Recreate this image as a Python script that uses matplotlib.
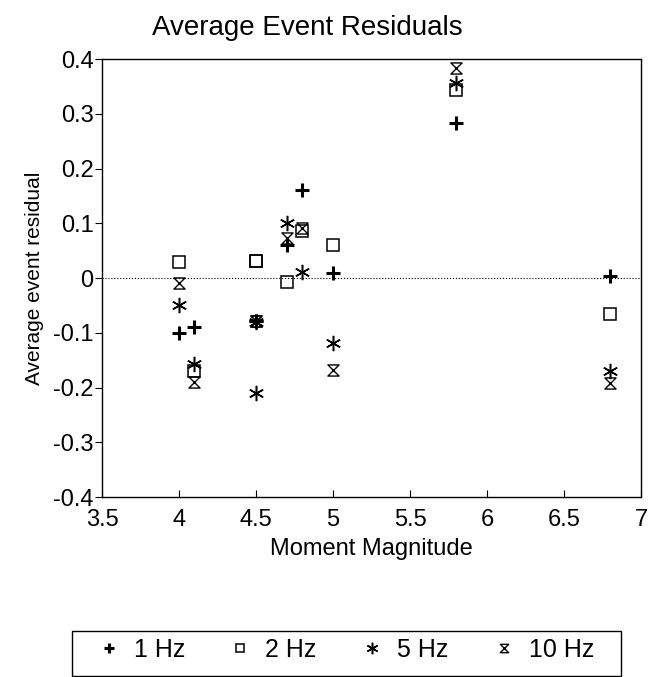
import matplotlib
matplotlib.use("Agg")
import matplotlib.pyplot as plt
from matplotlib.path import Path
from matplotlib.patches import Rectangle

plt.rcParams['font.family'] = ['Liberation Sans', 'DejaVu Sans']

# moment magnitudes of the events
mag = [4.0, 4.1, 4.5, 4.5, 4.7, 4.8, 5.0, 5.8, 6.8]

# average event residual per frequency
res_1hz = [-0.100, -0.089, -0.078, -0.078, 0.060, 0.160, 0.010, 0.283, 0.004]
res_2hz = [0.030, -0.170, 0.031, 0.031, -0.008, 0.086, 0.060, 0.344, -0.065]
res_5hz = [-0.050, -0.157, -0.080, -0.210, 0.100, 0.011, -0.118, 0.356, -0.170]
res_10hz = [-0.010, -0.190, -0.078, -0.078, 0.073, 0.091, -0.168, 0.384, -0.192]

labels = ['1 Hz', '2 Hz', '5 Hz', '10 Hz']

# sand-glass marker for the 10 Hz series
hourglass = Path([(-1, 1), (1, 1), (-1, -1), (1, -1), (-1, 1)],
                 [Path.MOVETO, Path.LINETO, Path.LINETO, Path.LINETO, Path.CLOSEPOLY])

W, H = 648, 677
fig = plt.figure(figsize=(W / 100, H / 100), dpi=100)
ax = fig.add_axes([102 / W, 1 - 497 / H, (641 - 102) / W, (497 - 59) / H])

ax.axhline(0, color='black', lw=0.8, ls=':', zorder=1)

ax.plot(mag, res_1hz, ls='none', marker='+', ms=10, mew=2.2, color='black', label=labels[0])
ax.plot(mag, res_2hz, ls='none', marker='s', ms=8, mew=1.1, mfc='none', mec='black', label=labels[1])
ax.plot(mag, res_5hz, ls='none', marker=(6, 2, 0), ms=11, mew=1.1, color='black', label=labels[2])
ax.plot(mag, res_10hz, ls='none', marker=hourglass, ms=8, mew=1.0, mfc='none', mec='black', label=labels[3])

ax.set_xlim(3.5, 7)
ax.set_ylim(-0.4, 0.4)
ax.set_xticks([3.5, 4, 4.5, 5, 5.5, 6, 6.5, 7])
ax.set_xticklabels(['3.5', '4', '4.5', '5', '5.5', '6', '6.5', '7'])
ax.set_yticks([0.4, 0.3, 0.2, 0.1, 0, -0.1, -0.2, -0.3, -0.4])
ax.set_yticklabels(['0.4', '0.3', '0.2', '0.1', '0', '-0.1', '-0.2', '-0.3', '-0.4'])
ax.tick_params(axis='x', direction='in', length=5, labelsize=17, pad=9)
ax.tick_params(axis='y', direction='out', length=5, labelsize=17, pad=1)
for s in ax.spines.values():
    s.set_linewidth(1.0)

ax.set_xlabel('Moment Magnitude', fontsize=17, labelpad=5)
ax.set_ylabel('Average event residual', fontsize=15)
ax.yaxis.set_label_coords(-0.108, 0.5)
fig.text(152 / W, 1 - 35 / H, 'Average Event Residuals', fontsize=20,
         ha='left', va='baseline')

# legend entries without frame, box drawn separately
leg = fig.legend(loc='upper left', ncol=4, borderaxespad=0, borderpad=0,
                 bbox_to_anchor=(96 / W, 1 - 638 / H),
                 fontsize=18, frameon=False, markerscale=0.75,
                 handlelength=1.0, handletextpad=0.5, columnspacing=1.72)
fig.patches.append(Rectangle((72 / W, 1 - 676 / H), (621 - 72) / W, (676 - 631) / H,
                             transform=fig.transFigure, fill=False,
                             edgecolor='black', lw=1.0))

fig.savefig('out.png', dpi=100)
